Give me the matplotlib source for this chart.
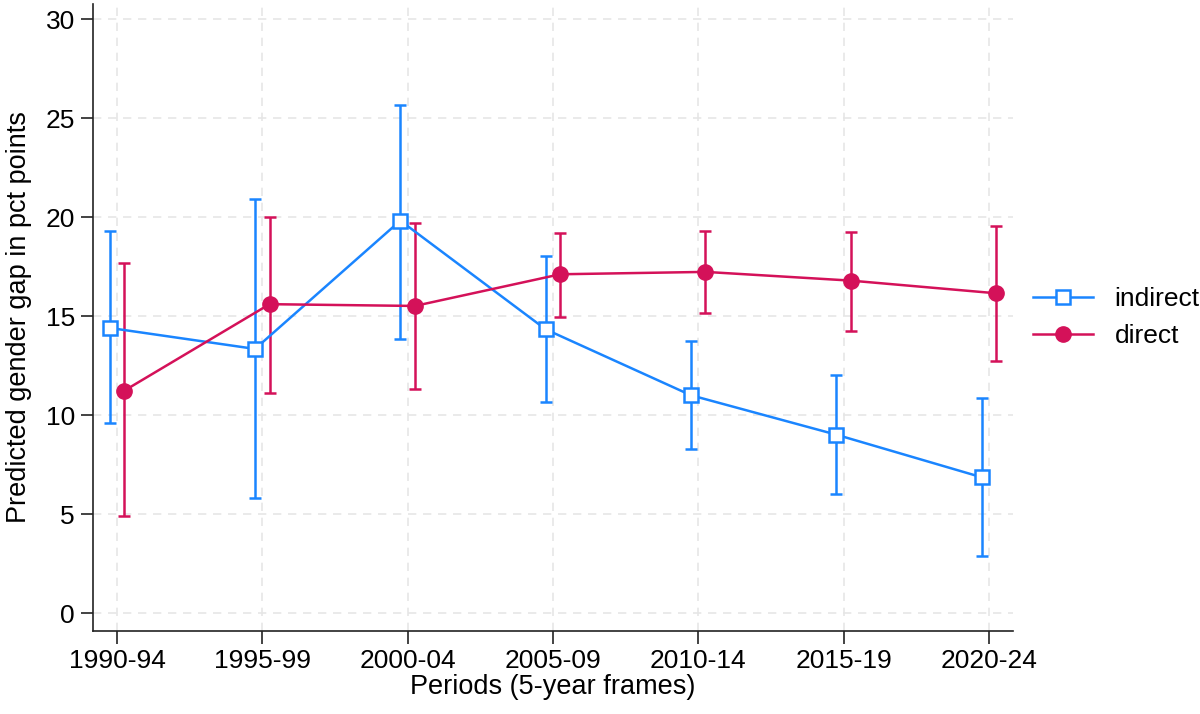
import matplotlib
matplotlib.use("Agg")
import matplotlib.pyplot as plt
import numpy as np

plt.rcParams['font.family'] = ['Liberation Sans', 'DejaVu Sans']

# Data
periods = ["1990-94", "1995-99", "2000-04", "2005-09", "2010-14", "2015-19", "2020-24"]

indirect = [14.42, 13.36, 19.84, 14.35, 11.02, 9.03, 6.88]
indirect_lo = [9.60, 5.85, 13.88, 10.67, 8.29, 6.05, 2.90]
indirect_hi = [19.33, 20.92, 25.70, 18.07, 13.75, 12.06, 10.87]

direct = [11.25, 15.62, 15.53, 17.13, 17.25, 16.81, 16.17]
direct_lo = [4.91, 11.14, 11.32, 14.99, 15.16, 14.28, 12.74]
direct_hi = [17.69, 20.04, 19.74, 19.20, 19.33, 19.28, 19.59]

blue = "#1a85ff"
red = "#d41159"

x = np.arange(len(periods))
off = 0.05

fig = plt.figure(figsize=(12, 7.14), dpi=100)
ax = fig.add_axes([0.0775, 0.1167, 0.7665, 0.8777])

# Indirect series
ind = np.array(indirect)
ax.errorbar(x - off, ind,
            yerr=[ind - np.array(indirect_lo), np.array(indirect_hi) - ind],
            fmt='none', ecolor=blue, elinewidth=1.8, capsize=4.5, capthick=1.8, zorder=3)
ax.plot(x - off, ind, color=blue, lw=1.8, marker='s', ms=9.5,
        mfc='white', mec=blue, mew=1.8, label="indirect", zorder=4)

# Direct series
dr = np.array(direct)
ax.errorbar(x + off, dr,
            yerr=[dr - np.array(direct_lo), np.array(direct_hi) - dr],
            fmt='none', ecolor=red, elinewidth=1.8, capsize=4.5, capthick=1.8, zorder=3)
ax.plot(x + off, dr, color=red, lw=1.8, marker='o', ms=11,
        mfc=red, mec=red, label="direct", zorder=4)

ax.set_xlim(-0.165, 6.165)
ax.set_ylim(-0.87, 30.78)
ax.set_xticks(x)
ax.set_xticklabels(periods)
ax.set_yticks([0, 5, 10, 15, 20, 25, 30])

ax.grid(True, color='#e6e6e6', linestyle=(0, (5, 4)), lw=1.2)
ax.set_axisbelow(True)

for s in ['top', 'right']:
    ax.spines[s].set_visible(False)
for s in ['left', 'bottom']:
    ax.spines[s].set_color('#222222')
    ax.spines[s].set_linewidth(1.2)

ax.tick_params(labelsize=19, length=9, width=1.2, color='#222222', pad=4)
ax.set_xlabel("Periods (5-year frames)", fontsize=19.5, labelpad=1)
ax.set_ylabel("Predicted gender gap in pct points", fontsize=19.5, labelpad=10)

ax.legend(loc='center left', bbox_to_anchor=(1.0, 0.50), frameon=False,
          fontsize=19, handlelength=2.3, handletextpad=0.8, labelspacing=0.5,
          borderaxespad=0.35)

fig.savefig("out.png", dpi=100)
